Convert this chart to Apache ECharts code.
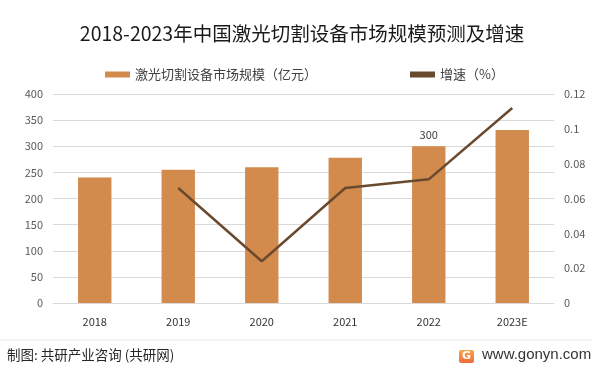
<!DOCTYPE html>
<html>
<head>
<meta charset="utf-8">
<script src="https://cdn.jsdelivr.net/npm/echarts@6/dist/echarts.min.js"></script>
<style>
  html, body { margin: 0; padding: 0; background: #fff; }
  #chart { width: 604px; height: 375px; }
</style>
</head>
<body>
<div id="chart"></div>
<script>
// data
const years = ['2018', '2019', '2020', '2021', '2022', '2023E']
const marketSize = [240, 255, 260, 278, 300, 331] // 亿元
const growth = [null, 0.066, 0.024, 0.066, 0.071, 0.112]
const leftTicks = [0, 50, 100, 150, 200, 250, 300, 350, 400]
const rightTicks = [0, 0.02, 0.04, 0.06, 0.08, 0.1, 0.12]

const font = '"Noto Sans CJK SC", "Noto Sans", sans-serif'
const barColor = '#d38b4d'
const lineColor = '#694a2e'

const chart = echarts.init(document.getElementById('chart'))

chart.setOption({
  backgroundColor: '#fff',
  animation: false,
  textStyle: { fontFamily: font },
  title: {
    text: '2018-2023年中国激光切割设备市场规模预测及增速',
    left: 'center',
    top: 19,
    textStyle: { fontSize: 19.5, fontWeight: 'normal', color: '#1a1a1a', fontFamily: font }
  },
  legend: {
    top: 63,
    left: 100,
    itemGap: 93,
    itemWidth: 25,
    itemHeight: 6,
    textStyle: { fontSize: 13, color: '#404040', fontFamily: font },
    data: [
      { name: '激光切割设备市场规模（亿元）', icon: 'rect' },
      { name: '增速（%）', icon: 'rect', itemStyle: { color: lineColor } }
    ]
  },
  grid: { left: 53, right: 50, top: 94, bottom: 72 },
  xAxis: {
    type: 'category',
    data: years,
    axisLine: { lineStyle: { color: '#d9d9d9' } },
    axisTick: { show: false },
    axisLabel: { color: '#333', fontSize: 11, margin: 13 }
  },
  yAxis: [{
    type: 'value',
    min: leftTicks[0],
    max: leftTicks[leftTicks.length - 1],
    interval: 50,
    axisLine: { show: false },
    axisTick: { show: false },
    axisLabel: { color: '#595959', fontSize: 11, margin: 10 },
    splitLine: { lineStyle: { color: '#d9d9d9' } }
  }, {
    type: 'value',
    min: rightTicks[0],
    max: rightTicks[rightTicks.length - 1],
    interval: 0.02,
    axisLine: { show: false },
    axisTick: { show: false },
    axisLabel: { color: '#595959', fontSize: 11, margin: 10, formatter: v => String(+v.toFixed(2)) },
    splitLine: { show: false }
  }],
  series: [{
    name: '激光切割设备市场规模（亿元）',
    type: 'bar',
    data: marketSize.map((v, i) => i === 4
      ? { value: v, label: { show: true, position: 'top', color: '#404040', fontSize: 11, distance: 6 } }
      : v),
    barWidth: '40%',
    itemStyle: { color: barColor }
  }, {
    name: '增速（%）',
    type: 'line',
    yAxisIndex: 1,
    data: growth,
    symbol: 'none',
    lineStyle: { color: lineColor, width: 2.5 },
    itemStyle: { color: lineColor }
  }],
  graphic: [{
    type: 'line',
    shape: { x1: 0, y1: 340, x2: 592, y2: 340 },
    style: { stroke: '#e6e6e6', lineWidth: 1 }
  }, {
    type: 'text',
    left: 7,
    top: 348,
    style: { text: '制图: 共研产业咨询 (共研网)', fill: '#262626', font: '13.5px ' + font }
  }, {
    type: 'rect',
    shape: { x: 459, y: 350, width: 15, height: 13, r: 2 },
    style: {
      fill: new echarts.graphic.LinearGradient(0, 0, 0, 1, [
        { offset: 0, color: '#f7a84e' },
        { offset: 1, color: '#ef6b3b' }
      ])
    }
  }, {
    type: 'text',
    x: 466.5,
    y: 356.5,
    style: { text: 'G', fill: '#fff', font: 'bold 11px "DejaVu Sans", sans-serif', align: 'center', verticalAlign: 'middle' }
  }, {
    type: 'text',
    left: 482,
    top: 347,
    style: { text: 'www.gonyn.com', fill: '#333', font: '15px "Liberation Sans", Arial, sans-serif' }
  }]
})
</script>
</body>
</html>
